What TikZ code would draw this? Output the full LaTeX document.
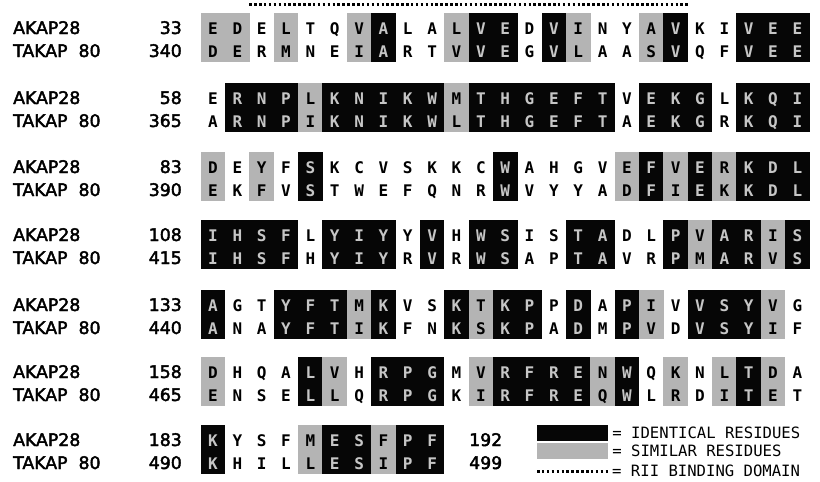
\documentclass[tikz,border=0pt]{standalone}
\usepackage{fontspec}
\setmainfont{DejaVu Sans}
\newfontfamily\labelfont{DejaVu Sans}[FakeBold=2.4]
\newfontfamily\resfont{DejaVu Sans Mono}
\usetikzlibrary{positioning}
\definecolor{idfill}{HTML}{060606}
\definecolor{idtext}{HTML}{C6C6C6}
\definecolor{simfill}{HTML}{B4B4B4}
\tikzset{
  seqname/.style={anchor=base west, inner sep=0pt, font=\labelfont\fontsize{17.3}{20}\selectfont},
  seqnum/.style={anchor=base east, inner sep=0pt, font=\labelfont\fontsize{17.3}{20}\selectfont},
  endnum/.style={anchor=base west, inner sep=0pt, font=\labelfont\fontsize{17.3}{20}\selectfont},
  cellbox/.style={minimum width=24.6pt, minimum height=49pt, inner sep=0pt},
  restext/.style={anchor=base, inner sep=0pt, font=\resfont\bfseries\fontsize{16}{18}\selectfont},
  idres/.style={fill=idfill, text=idtext},
  simres/.style={fill=simfill, text=black},
  nores/.style={text=black},
  bindline/.style={line width=3pt, dash pattern=on 2.5pt off 2.4pt},
  keybox/.style={minimum width=71pt, minimum height=16pt, inner sep=0pt},
  keytext/.style={anchor=west, inner sep=0pt, font=\resfont\fontsize{15.6}{17}\selectfont},
}
% #1 block name, #2 top edge, #3/#4 first residue numbers, #5 columns (shade/AKAP28/TAKAP 80)
\newcommand{\alnblock}[5]{%
  \node[seqname] (#1na) at (13,#2+21) {AKAP28};
  \node[seqname] (#1nb) at (13,#2+44) {TAKAP\ \ 80};
  \node[seqnum] (#1sa) at (182,#2+21) {#3};
  \node[seqnum] (#1sb) at (182,#2+44) {#4};
  \foreach \s/\a/\b [count=\i from 0] in {#5} {
    \node[cellbox,\s] (#1c\i) at ({213+24.35*\i},#2+24.5) {};
    \node[restext,\s,fill=none] (#1t\i) at ({213+24.35*\i},#2+21) {\a};
    \node[restext,\s,fill=none] (#1u\i) at ({213+24.35*\i},#2+44) {\b};
  }%
}
\begin{document}
\begin{tikzpicture}[x=1pt,y=-1pt]
  \useasboundingbox[fill=white] (0,0) rectangle (820,482);

  \alnblock{b1}{13}{33}{340}{simres/E/D, simres/D/E, nores/E/R, simres/L/M, nores/T/N,
    nores/Q/E, simres/V/I, idres/A/A, nores/L/R, nores/A/T, simres/L/V, idres/V/V,
    idres/E/E, nores/D/G, idres/V/V, simres/I/L, nores/N/A, nores/Y/A, simres/A/S,
    idres/V/V, nores/K/Q, nores/I/F, idres/V/V, idres/E/E, idres/E/E}
  \alnblock{b2}{83}{58}{365}{nores/E/A, idres/R/R, idres/N/N, idres/P/P, simres/L/I,
    idres/K/K, idres/N/N, idres/I/I, idres/K/K, idres/W/W, simres/M/L, idres/T/T,
    idres/H/H, idres/G/G, idres/E/E, idres/F/F, idres/T/T, nores/V/A, idres/E/E,
    idres/K/K, idres/G/G, nores/L/R, idres/K/K, idres/Q/Q, idres/I/I}
  \alnblock{b3}{152}{83}{390}{simres/D/E, nores/E/K, simres/Y/F, nores/F/V, idres/S/S,
    nores/K/T, nores/C/W, nores/V/E, nores/S/F, nores/K/Q, nores/K/N, nores/C/R,
    idres/W/W, nores/A/V, nores/H/Y, nores/G/Y, nores/V/A, simres/E/D, idres/F/F,
    simres/V/I, idres/E/E, simres/R/K, idres/K/K, idres/D/D, idres/L/L}
  \alnblock{b4}{220}{108}{415}{idres/I/I, idres/H/H, idres/S/S, idres/F/F, nores/L/H,
    idres/Y/Y, idres/I/I, idres/Y/Y, nores/Y/R, idres/V/V, nores/H/R, idres/W/W,
    idres/S/S, nores/I/A, nores/S/P, idres/T/T, idres/A/A, nores/D/V, nores/L/R,
    idres/P/P, simres/V/M, idres/A/A, idres/R/R, simres/I/V, idres/S/S}
  \alnblock{b5}{290}{133}{440}{idres/A/A, nores/G/N, nores/T/A, idres/Y/Y, idres/F/F,
    idres/T/T, simres/M/I, idres/K/K, nores/V/F, nores/S/N, idres/K/K, simres/T/S,
    idres/K/K, idres/P/P, nores/P/A, idres/D/D, nores/A/M, idres/P/P, simres/I/V,
    nores/V/D, idres/V/V, idres/S/S, idres/Y/Y, simres/V/I, nores/G/F}
  \alnblock{b6}{357}{158}{465}{simres/D/E, nores/H/N, nores/Q/S, nores/A/E, idres/L/L,
    simres/V/L, nores/H/Q, idres/R/R, idres/P/P, idres/G/G, nores/M/K, simres/V/I,
    idres/R/R, idres/F/F, idres/R/R, idres/E/E, simres/N/Q, idres/W/W, nores/Q/L,
    simres/K/R, nores/N/D, simres/L/I, idres/T/T, simres/D/E, nores/A/T}
  \alnblock{b7}{425}{183}{490}{idres/K/K, nores/Y/H, nores/S/I, nores/F/L, simres/M/L,
    idres/E/E, idres/S/S, simres/F/I, idres/P/P, idres/F/F}
  \node[endnum] (b7ea) at (469,446) {192};
  \node[endnum] (b7eb) at (469,469) {499};

  % RII binding domain
  \draw[bindline] ([yshift=8pt]b1c2.north west) -- ([yshift=8pt]b1c19.north east);

  % key
  \node[keybox, fill=idfill] (keyid) at (572.5,432.5) {};
  \node[keytext, right=4pt of keyid] (keyidt) {= IDENTICAL RESIDUES};
  \node[keybox, fill=simfill] (keysim) at (572.5,450.5) {};
  \node[keytext, right=4pt of keysim] (keysimt) {= SIMILAR RESIDUES};
  \coordinate (keydota) at (537,471);
  \coordinate (keydotb) at (608,471);
  \draw[bindline] (keydota) -- (keydotb);
  \node[keytext, right=4pt of keydotb] (keydott) {= RII BINDING DOMAIN};
\end{tikzpicture}
\end{document}
